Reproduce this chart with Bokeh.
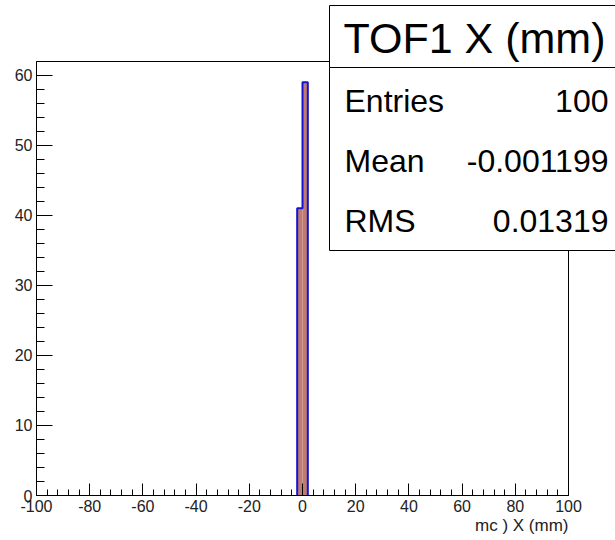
from bokeh.plotting import figure
from bokeh.models import Range1d, SingleIntervalTicker, BoxAnnotation, Label, CustomJSTickFormatter
from bokeh.embed import file_html
from bokeh.resources import INLINE

# ---- data ----
bin_edges = [-2.0, 0.0, 2.0]
counts = [41, 59]
x_min, x_max = -100, 100
x_ticks_interval = 20
y_ticks_interval = 10
title_text = "TOF1 X (mm)"
stat_names = ["Entries", "Mean", "RMS"]
stat_values = ["100", "-0.001199", "0.01319"]
x_label = "mc ) X (mm)"

# ---- layout (pixels) ----
W, H = 615, 540
FL, FR, FT, FB = 36, 568, 61, 495   # drawn histogram frame in canvas px
FONT = "Liberation Sans"
FILL = "#c07b70"
LINE = "#1414d0"

y_max = max(counts) * 1.05
sx = (FR - FL) / (x_max - x_min)
sy = (FB - FT) / y_max

p = figure(width=W, height=H, output_backend="svg", toolbar_location=None,
           x_range=Range1d(x_min - FL / sx, x_max + (W - FR) / sx),
           y_range=Range1d(-(H - FB) / sy, y_max + FT / sy),
           min_border=0, min_border_left=0, min_border_right=0,
           min_border_top=0, min_border_bottom=0)
p.xgrid.visible = False
p.ygrid.visible = False
p.outline_line_color = None
p.background_fill_color = "white"
p.border_fill_color = "white"

# histogram fill
p.quad(left=bin_edges[:-1], right=bin_edges[1:], bottom=0, top=counts,
       fill_color=FILL, line_color=None)
# outline step path
xs, ys = [bin_edges[0]], [0]
for i, c in enumerate(counts):
    xs += [bin_edges[i], bin_edges[i + 1]]
    ys += [c, c]
xs.append(bin_edges[-1]); ys.append(0)
p.line(xs, ys, line_color=LINE, line_width=2)

# frame box
p.quad(left=[x_min], right=[x_max], bottom=[0], top=[y_max],
       fill_color=None, line_color="black", line_width=1)

# axes fixed at the frame edges
p.xaxis[0].fixed_location = 0
p.yaxis[0].fixed_location = x_min
p.xaxis[0].bounds = (x_min, x_max)
p.yaxis[0].bounds = (0, y_max)
fmt = CustomJSTickFormatter(code="return tick.toFixed(0)")
for ax, iv, maj, mnr in [(p.xaxis[0], x_ticks_interval, 12, 6), (p.yaxis[0], y_ticks_interval, 16, 8)]:
    ax.ticker = SingleIntervalTicker(interval=iv, num_minor_ticks=5)
    ax.formatter = fmt
    ax.major_tick_in = maj
    ax.major_tick_out = 0
    ax.minor_tick_in = mnr
    ax.minor_tick_out = 0
    ax.axis_line_color = "black"
    ax.major_tick_line_color = "black"
    ax.minor_tick_line_color = "black"
    ax.major_label_text_font = FONT
    ax.major_label_text_font_size = "16px"
    ax.major_label_text_color = "#222222"
p.xaxis.major_label_standoff = 4
p.yaxis.major_label_standoff = 4

def lab(x, y, text, size, align, color="black"):
    p.add_layout(Label(x=x, y=H - y, x_units="screen", y_units="screen", text=text,
                       text_align=align, text_baseline="middle", text_font=FONT,
                       text_font_size=size, text_color=color, level="overlay"))

lab(FR, 525, x_label, "17px", "right", "#222222")

# stats box
def box(top, bottom):
    p.add_layout(BoxAnnotation(left=329, right=W + 30, top=H - top, bottom=H - bottom,
                               left_units="screen", right_units="screen",
                               top_units="screen", bottom_units="screen",
                               fill_color="white", fill_alpha=1, line_color="black",
                               line_alpha=1, line_width=1, level="overlay"))
box(5, 67)
box(67, 250)

lab(343, 37, title_text, "43px", "left")
for i, (n, v) in enumerate(zip(stat_names, stat_values)):
    yy = 100 + 60 * i
    lab(344, yy, n, "32px", "left")
    lab(608, yy, v, "32px", "right")

open("out.html", "w").write(file_html(p, INLINE))
